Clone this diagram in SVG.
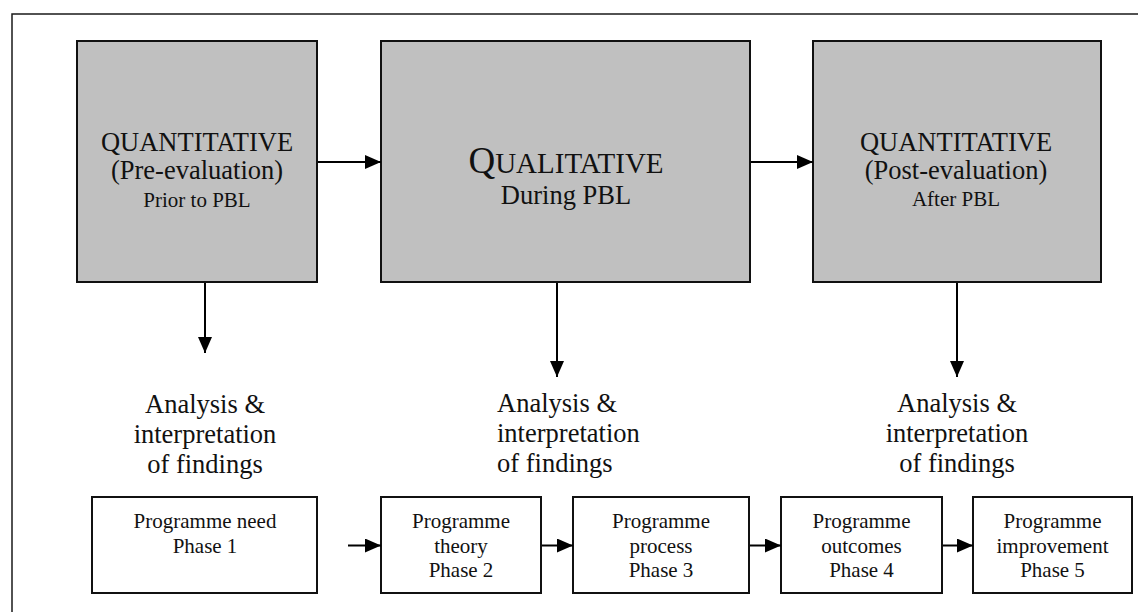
<svg xmlns="http://www.w3.org/2000/svg" width="1138" height="612" viewBox="0 0 1138 612">
  <style>
    .frame { fill: none; stroke: #1a1a1a; stroke-width: 1.5; }
    .stage { fill: #c0c0c0; stroke: #111; stroke-width: 2; }
    .phase { fill: #fff; stroke: #111; stroke-width: 2; }
    .link { stroke: #000; stroke-width: 2; fill: none; marker-end: url(#head); }
    text { font-family: "Liberation Serif", "Times New Roman", serif; fill: #111; text-anchor: middle; }
    text.left { text-anchor: start; }
    .big { font-size: 26.5px; }
    .small { font-size: 21px; }
    .note { font-size: 26.5px; }
  </style>
  <defs>
    <marker id="head" markerUnits="userSpaceOnUse" markerWidth="16" markerHeight="14" refX="16" refY="7" orient="auto">
      <path d="M0,0 L16,7 L0,14 Z" fill="#000"/>
    </marker>
  </defs>

  <rect width="1138" height="612" fill="#fff"/>
  <!-- outer frame (runs off the right and bottom edges) -->
  <rect class="frame" x="12" y="14" width="1140" height="620"/>

  <!-- top stages -->
  <g id="pre-evaluation">
    <rect class="stage" x="77" y="41" width="240" height="241"/>
    <text class="big" x="197" y="151">QUANTITATIVE</text>
    <text class="big" x="197" y="179">(Pre-evaluation)</text>
    <text class="small" x="197" y="207">Prior to PBL</text>
  </g>
  <g id="qualitative">
    <rect class="stage" x="381" y="41" width="369" height="241"/>
    <text x="566" y="173"><tspan font-size="37">Q</tspan><tspan font-size="29">UALITATIVE</tspan></text>
    <text class="big" x="566" y="204">During PBL</text>
  </g>
  <g id="post-evaluation">
    <rect class="stage" x="813" y="41" width="288" height="241"/>
    <text class="big" x="956" y="151">QUANTITATIVE</text>
    <text class="big" x="956" y="179">(Post-evaluation)</text>
    <text class="small" x="956" y="206">After PBL</text>
  </g>

  <!-- analysis labels -->
  <g id="analysis-1">
    <text class="note" x="205" y="413">Analysis &amp;</text>
    <text class="note" x="205" y="443">interpretation</text>
    <text class="note" x="205" y="473">of findings</text>
  </g>
  <g id="analysis-2">
    <text class="note left" x="497" y="412">Analysis &amp;</text>
    <text class="note left" x="497" y="442">interpretation</text>
    <text class="note left" x="497" y="472">of findings</text>
  </g>
  <g id="analysis-3">
    <text class="note" x="957" y="412">Analysis &amp;</text>
    <text class="note" x="957" y="442">interpretation</text>
    <text class="note" x="957" y="472">of findings</text>
  </g>

  <!-- programme phases -->
  <g id="phase-1">
    <rect class="phase" x="92" y="497" width="225" height="96"/>
    <text class="small" x="205" y="528">Programme need</text>
    <text class="small" x="205" y="553">Phase 1</text>
  </g>
  <g id="phase-2">
    <rect class="phase" x="381" y="497" width="160" height="96"/>
    <text class="small" x="461" y="528">Programme</text>
    <text class="small" x="461" y="553">theory</text>
    <text class="small" x="461" y="577">Phase 2</text>
  </g>
  <g id="phase-3">
    <rect class="phase" x="573" y="497" width="176" height="96"/>
    <text class="small" x="661" y="528">Programme</text>
    <text class="small" x="661" y="553">process</text>
    <text class="small" x="661" y="577">Phase 3</text>
  </g>
  <g id="phase-4">
    <rect class="phase" x="781" y="497" width="161" height="96"/>
    <text class="small" x="861.5" y="528">Programme</text>
    <text class="small" x="861.5" y="553">outcomes</text>
    <text class="small" x="861.5" y="577">Phase 4</text>
  </g>
  <g id="phase-5">
    <rect class="phase" x="973" y="497" width="159" height="96"/>
    <text class="small" x="1052.5" y="528">Programme</text>
    <text class="small" x="1052.5" y="553">improvement</text>
    <text class="small" x="1052.5" y="577">Phase 5</text>
  </g>

  <!-- connectors -->
  <g id="connectors">
    <line class="link" x1="318" y1="162" x2="381" y2="162"/>
    <line class="link" x1="751" y1="162" x2="813" y2="162"/>
    <line class="link" x1="205" y1="283" x2="205" y2="353"/>
    <line class="link" x1="557" y1="283" x2="557" y2="377"/>
    <line class="link" x1="957" y1="283" x2="957" y2="377"/>
    <line class="link" x1="348" y1="545.5" x2="381" y2="545.5"/>
    <line class="link" x1="542" y1="545.5" x2="573" y2="545.5"/>
    <line class="link" x1="750" y1="545.5" x2="781" y2="545.5"/>
    <line class="link" x1="943" y1="545.5" x2="973" y2="545.5"/>
  </g>
</svg>
